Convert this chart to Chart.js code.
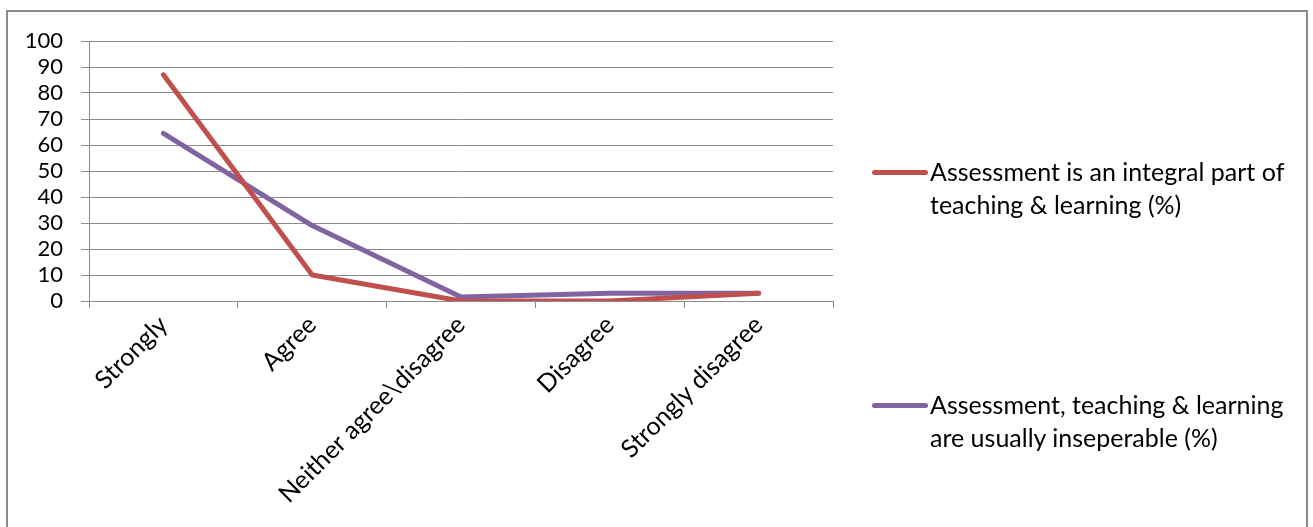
<!DOCTYPE html>
<html>
<head>
<meta charset="utf-8">
<script src="https://cdn.jsdelivr.net/npm/chart.js@4/dist/chart.umd.min.js"></script>
<style>
  html, body { margin: 0; padding: 0; background: #fff; }
  #wrap { position: relative; width: 1313px; height: 527px; overflow: hidden; }
  #frame { position: absolute; left: 6px; top: 10px; width: 1302px; height: 530px; border: 2px solid #8a8a8a; box-sizing: border-box; }
  canvas { position: absolute; left: 0; top: 0; }
  .leg { position: absolute; left: 872px; font-family: Lato, sans-serif; font-size: 25px; line-height: 33px; color: #000; white-space: nowrap; }
  .leg .sw { position: absolute; left: 0; top: 15px; width: 56px; height: 5px; border-radius: 3px; }
  .leg .tx { margin-left: 58px; }
</style>
</head>
<body>
<div id="wrap">
  <div id="frame"></div>
  <canvas id="c" width="1313" height="527"></canvas>
  <div id="legend"></div>
</div>
<script>
const categories = ["Strongly", "Agree", "Neither agree\\disagree", "Disagree", "Strongly disagree"];
const integralPart = [87, 10, 0, 0, 3];
const inseparable = [64.5, 29, 1.5, 3, 3];
const seriesNames = [
  ["Assessment is an integral part of", "teaching & learning (%)"],
  ["Assessment, teaching & learning", "are usually inseperable (%)"]
];
const seriesColors = ["#C0504D", "#8064A2"];
const yTicks = [0, 10, 20, 30, 40, 50, 60, 70, 80, 90, 100];

new Chart(document.getElementById("c"), {
  type: "line",
  data: {
    labels: categories,
    datasets: [integralPart, inseparable].map((vals, i) => ({
      label: seriesNames[i].join(" "),
      data: vals,
      borderColor: seriesColors[i],
      backgroundColor: seriesColors[i],
      borderWidth: 5,
      borderCapStyle: "round",
      borderJoinStyle: "round",
      pointRadius: 0,
      tension: 0
    }))
  },
  options: {
    responsive: false,
    animation: false,
    layout: { padding: { left: 0, top: 41, right: 480, bottom: 0 } },
    plugins: { legend: { display: false }, tooltip: { enabled: false } },
    scales: {
      x: {
        offset: true,
        afterFit: s => { s.height = 226; },
        border: { color: "#8a8a8a", width: 1 },
        grid: { offset: true, drawOnChartArea: false, tickLength: 7, color: "#8a8a8a" },
        ticks: { color: "#000", font: { family: "Lato, sans-serif", size: 25 }, minRotation: 45, maxRotation: 45, padding: 2, autoSkip: false }
      },
      y: {
        min: 0, max: 100,
        afterFit: s => { s.width = 89; },
        afterBuildTicks: s => { s.ticks = yTicks.map(v => ({ value: v })); },
        border: { color: "#8a8a8a", width: 1 },
        grid: { color: "#8a8a8a", tickLength: 8, lineWidth: 1 },
        ticks: { color: "#000", font: { family: "Lato, sans-serif", size: 22 }, padding: 18, autoSkip: false }
      }
    }
  }
});

// legend entries on the right, one per series
const legendTops = [155, 388];
const legend = document.getElementById("legend");
seriesNames.forEach((lines, i) => {
  const d = document.createElement("div");
  d.className = "leg";
  d.style.top = legendTops[i] + "px";
  d.innerHTML = '<div class="sw" style="background:' + seriesColors[i] + '"></div><div class="tx">' +
    lines.map(l => l.replace(/&/g, "&amp;")).join("<br>") + "</div>";
  legend.appendChild(d);
});
</script>
</body>
</html>
